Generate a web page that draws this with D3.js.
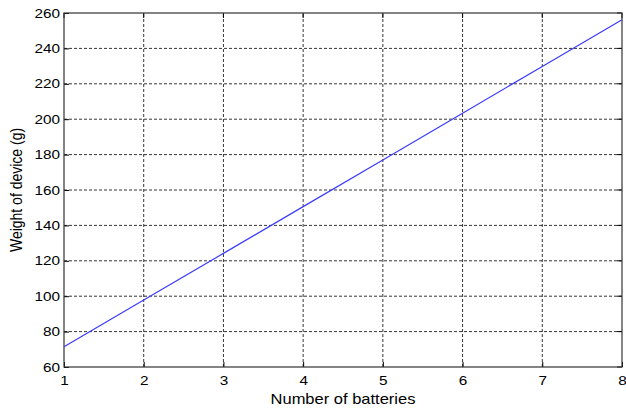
<!DOCTYPE html>
<html><head><meta charset="utf-8">
<script src="https://cdn.jsdelivr.net/npm/d3@7"></script>
<style>body{margin:0;background:#fff}svg{display:block}</style>
</head><body>
<script>
const batteries = [1, 2, 3, 4, 5, 6, 7, 8];
const weights = [71.4, 97.8, 124.2, 150.6, 177.0, 203.4, 229.8, 256.2];
const xTicks = [1, 2, 3, 4, 5, 6, 7, 8];
const yTicks = [60, 80, 100, 120, 140, 160, 180, 200, 220, 240, 260];

const W = 626, H = 408;
const m = {left: 64, right: 4, top: 13, bottom: 41};
const S = 1.18; // horizontal stretch of the text in the reference
const svg = d3.select("body").append("svg").attr("width", W).attr("height", H);
const x = d3.scaleLinear().domain([1, 8]).range([m.left, W - m.right]);
const y = d3.scaleLinear().domain([60, 260]).range([H - m.bottom, m.top]);
const font = "'Liberation Sans', Arial, Helvetica, sans-serif";

// grid
svg.append("g").selectAll("line").data(xTicks.slice(1, -1)).join("line")
  .attr("x1", d => x(d)).attr("x2", d => x(d)).attr("y1", y(60)).attr("y2", y(260))
  .attr("stroke", "#000").attr("stroke-width", 0.8).attr("stroke-dasharray", "3,2");
svg.append("g").selectAll("line").data(yTicks.slice(1, -1)).join("line")
  .attr("x1", x(1)).attr("x2", x(8)).attr("y1", d => y(d)).attr("y2", d => y(d))
  .attr("stroke", "#000").attr("stroke-width", 0.8).attr("stroke-dasharray", "3,2");

// axes
const xAxis = svg.append("g").attr("transform", `translate(0,${y(60)})`)
  .call(d3.axisBottom(x).tickValues(xTicks).tickFormat(d3.format("d")).tickSizeInner(-5).tickSizeOuter(0).tickPadding(9));
const yAxis = svg.append("g").attr("transform", `translate(${x(1)},0)`)
  .call(d3.axisLeft(y).tickValues(yTicks).tickFormat(d3.format("d")).tickSizeInner(-5).tickSizeOuter(0).tickPadding(4));
[xAxis, yAxis].forEach(g => {
  g.selectAll("text").attr("font-family", font).attr("font-size", 13).attr("fill", "#000")
    .attr("transform", `scale(${S},1)`);
  g.selectAll("line").attr("stroke", "#000");
  g.select(".domain").remove();
});
yAxis.selectAll("text").attr("x", -4 / S);
// top/right ticks
svg.append("g").selectAll("line").data(xTicks).join("line")
  .attr("x1", d => x(d)).attr("x2", d => x(d)).attr("y1", y(260)).attr("y2", y(260) + 5).attr("stroke", "#000");
svg.append("g").selectAll("line").data(yTicks).join("line")
  .attr("x1", x(8)).attr("x2", x(8) - 5).attr("y1", d => y(d)).attr("y2", d => y(d)).attr("stroke", "#000");

// box
svg.append("rect").attr("x", x(1)).attr("y", y(260)).attr("width", x(8) - x(1)).attr("height", y(60) - y(260))
  .attr("fill", "none").attr("stroke", "#333").attr("stroke-width", 1.2);

// line
svg.append("path").datum(batteries.map((b, i) => [b, weights[i]]))
  .attr("d", d3.line().x(d => x(d[0])).y(d => y(d[1])))
  .attr("fill", "none").attr("stroke", "#3b3bff").attr("stroke-width", 1.2);

// labels
svg.append("text").attr("transform", `translate(${(x(1) + x(8)) / 2},404) scale(${S},1)`).attr("text-anchor", "middle")
  .attr("font-family", font).attr("font-size", 14).text("Number of batteries");
svg.append("text").attr("transform", `translate(22,${(y(60) + y(260)) / 2}) scale(${S},1) rotate(-90)`).attr("text-anchor", "middle")
  .attr("font-family", font).attr("font-size", 14).text("Weight of device (g)");
</script>
</body></html>
